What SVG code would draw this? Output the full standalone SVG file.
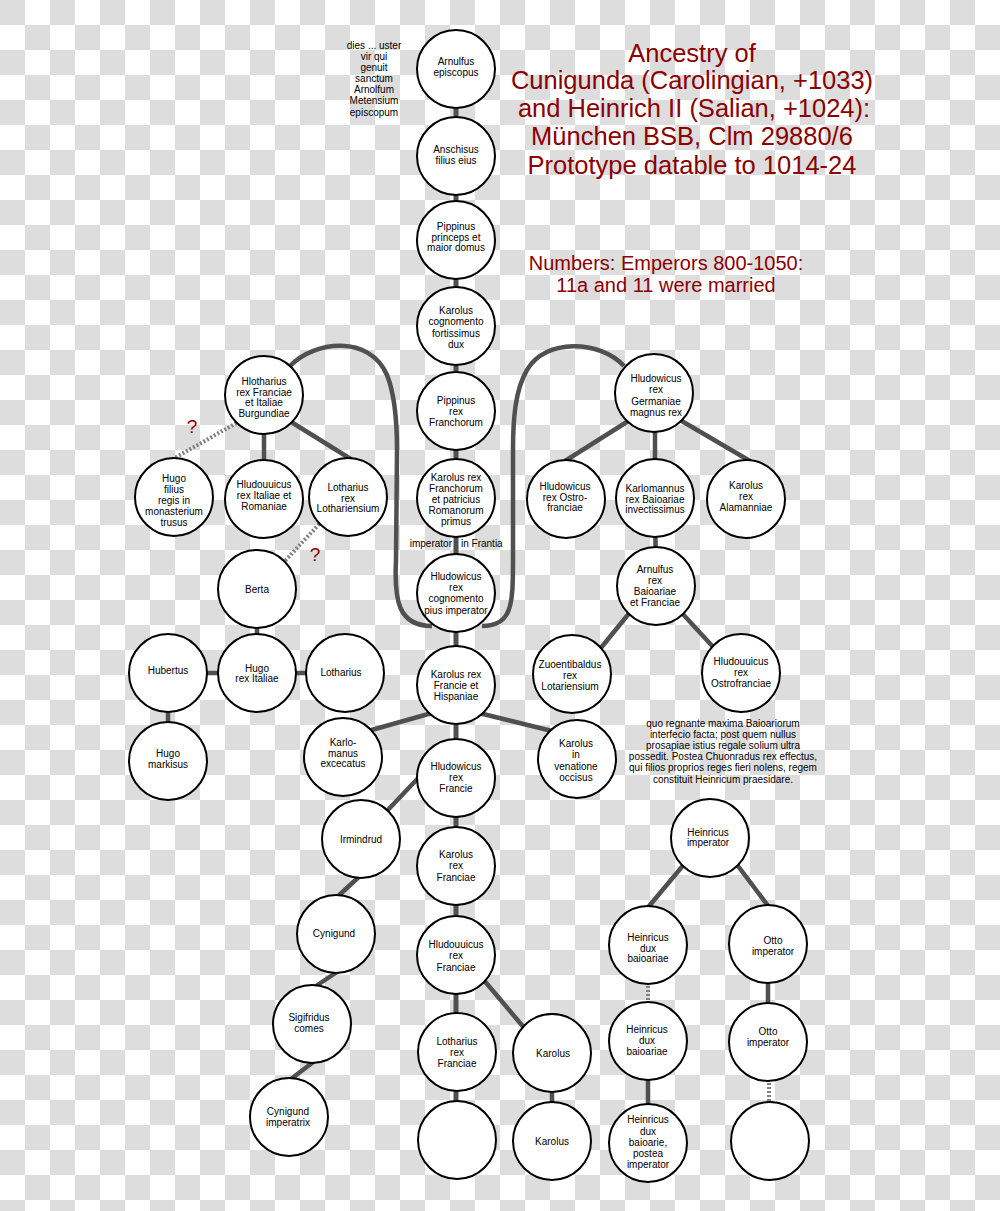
<svg xmlns="http://www.w3.org/2000/svg" width="1000" height="1211" viewBox="0 0 1000 1211">
<defs>
<pattern id="chk" x="0" y="0" width="50" height="50" patternUnits="userSpaceOnUse">
<rect width="50" height="50" fill="#ffffff"/>
<rect x="0" y="0" width="25" height="25" fill="#dddddd"/>
<rect x="25" y="25" width="25" height="25" fill="#dddddd"/>
</pattern>
<style>
.node circle{fill:#fff;stroke:#000;stroke-width:2}
.node text,.t{font-family:"Liberation Sans",Arial,sans-serif;font-size:10px;text-anchor:middle;fill:#000}
.c{stroke:#505050;stroke-width:4.5;fill:none}
.v{stroke:#505050;stroke-width:5;fill:none}
.d{stroke:#808080;stroke-width:4;stroke-dasharray:2 2;fill:none}
.title{font-family:"Liberation Sans",Arial,sans-serif;font-size:25.5px;text-anchor:middle;fill:#8b0000}
.num{font-family:"Liberation Sans",Arial,sans-serif;font-size:20px;text-anchor:middle;fill:#8b0000}
.q{font-family:"Liberation Sans",Arial,sans-serif;font-size:19px;text-anchor:middle;fill:#8b0000}
</style>
</defs>
<rect width="1000" height="1211" fill="url(#chk)"/>

<g id="connectors">
<line class="v" x1="456" y1="69" x2="456" y2="1140"/>
<line class="c" x1="264" y1="395" x2="264" y2="499"/>
<line class="c" x1="288" y1="420" x2="354" y2="461"/>
<line class="d" x1="240" y1="421" x2="171" y2="460"/>
<line class="d" x1="322" y1="521" x2="284" y2="562"/>
<line class="c" x1="257" y1="589" x2="257" y2="673"/>
<line class="c" x1="168" y1="673" x2="345" y2="673"/>
<line class="c" x1="168" y1="673" x2="168" y2="761"/>
<path class="c" d="M290 366 C315 340 370 335 387 375 C395 395 397 420 397 450 L396 560 C394 600 398 626 432 626"/>
<path class="c" d="M624 366 C600 340 545 338 527 370 C515 390 513 420 513 450 L513 560 C513 605 512 626 482 626"/>
<line class="c" x1="630" y1="420" x2="565" y2="461"/>
<line class="c" x1="655" y1="393" x2="655" y2="498"/>
<line class="c" x1="680" y1="420" x2="750" y2="461"/>
<line class="c" x1="655" y1="498" x2="656" y2="586"/>
<line class="c" x1="631" y1="611" x2="600" y2="649"/>
<line class="c" x1="680" y1="611" x2="715" y2="649"/>
<line class="c" x1="432" y1="713" x2="368" y2="731"/>
<line class="c" x1="479" y1="713" x2="552" y2="731"/>
<line class="c" x1="422" y1="774" x2="385" y2="813"/>
<line class="c" x1="362" y1="874" x2="335" y2="899"/>
<line class="c" x1="340" y1="970" x2="310" y2="990"/>
<line class="c" x1="316" y1="1060" x2="287" y2="1082"/>
<line class="c" x1="482" y1="978" x2="526" y2="1030"/>
<line class="c" x1="552" y1="1053" x2="552" y2="1141"/>
<line class="c" x1="686" y1="862" x2="645" y2="911"/>
<line class="c" x1="735" y1="862" x2="772" y2="911"/>
<line class="d" x1="648" y1="982" x2="648" y2="1004"/>
<line class="c" x1="648" y1="1041" x2="648" y2="1143"/>
<line class="c" x1="768" y1="944" x2="768" y2="1042"/>
<line class="d" x1="769" y1="1079" x2="769" y2="1104"/>
</g>

<g id="n1" class="node"><circle cx="456" cy="69" r="39"/><text><tspan x="456" y="64.5">Arnulfus</tspan><tspan x="456" y="75.5">episcopus</tspan></text></g>
<g id="n2" class="node"><circle cx="456" cy="156" r="39"/><text><tspan x="456" y="152.5">Anschisus</tspan><tspan x="456" y="163.5">filius eius</tspan></text></g>
<g id="n3" class="node"><circle cx="456" cy="240" r="39"/><text><tspan x="456" y="229.5">Pippinus</tspan><tspan x="456" y="240.5">princeps et</tspan><tspan x="456" y="251">maior domus</tspan></text></g>
<g id="n4" class="node"><circle cx="456" cy="326" r="39"/><text><tspan x="456" y="313.5">Karolus</tspan><tspan x="456" y="325">cognomento</tspan><tspan x="456" y="336.5">fortissimus</tspan><tspan x="456" y="347.5">dux</tspan></text></g>
<g id="n5" class="node"><circle cx="456" cy="411" r="39"/><text><tspan x="456" y="403.5">Pippinus</tspan><tspan x="456" y="414.5">rex</tspan><tspan x="456" y="425.5">Franchorum</tspan></text></g>
<g id="n6" class="node"><circle cx="456" cy="498" r="39"/><text><tspan x="456" y="480.5">Karolus rex</tspan><tspan x="456" y="491.5">Franchorum</tspan><tspan x="456" y="502.5">et patricius</tspan><tspan x="456" y="513.5">Romanorum</tspan><tspan x="456" y="524.5">primus</tspan></text></g>
<g id="n7" class="node"><circle cx="456" cy="593" r="39"/><text><tspan x="456" y="579.5">Hludowicus</tspan><tspan x="456" y="590.5">rex</tspan><tspan x="456" y="602">cognomento</tspan><tspan x="456" y="613.5">pius imperator</tspan></text></g>
<g id="n8" class="node"><circle cx="456" cy="685" r="39"/><text><tspan x="456" y="677.5">Karolus rex</tspan><tspan x="456" y="688.5">Francie et</tspan><tspan x="456" y="699.5">Hispaniae</tspan></text></g>
<g id="n9" class="node"><circle cx="456" cy="778" r="39"/><text><tspan x="456" y="769.5">Hludowicus</tspan><tspan x="456" y="780.5">rex</tspan><tspan x="456" y="791.5">Francie</tspan></text></g>
<g id="n10" class="node"><circle cx="456" cy="866" r="39"/><text><tspan x="456" y="857.5">Karolus</tspan><tspan x="456" y="869">rex</tspan><tspan x="456" y="880.5">Franciae</tspan></text></g>
<g id="n11" class="node"><circle cx="456" cy="955" r="39"/><text><tspan x="456" y="947.5">Hludouuicus</tspan><tspan x="456" y="959">rex</tspan><tspan x="456" y="970.5">Franciae</tspan></text></g>
<g id="n12" class="node"><circle cx="457" cy="1052" r="39"/><text><tspan x="457" y="1044.5">Lotharius</tspan><tspan x="457" y="1055.5">rex</tspan><tspan x="457" y="1066.5">Franciae</tspan></text></g>
<g id="n13" class="node"><circle cx="457" cy="1140" r="39"/></g>

<g id="hlotharius" class="node"><circle cx="264" cy="395" r="39"/><text><tspan x="264" y="384.5">Hlotharius</tspan><tspan x="264" y="395.5">rex Franciae</tspan><tspan x="264" y="406">et Italiae</tspan><tspan x="264" y="416.5">Burgundiae</tspan></text></g>
<g id="hugo-filius" class="node"><circle cx="174" cy="497" r="39"/><text><tspan x="174" y="481.5">Hugo</tspan><tspan x="174" y="492.5">filius</tspan><tspan x="174" y="503.5">regis in</tspan><tspan x="174" y="515">monasterium</tspan><tspan x="174" y="526">trusus</tspan></text></g>
<g id="hludouuicus-italiae" class="node"><circle cx="264" cy="499" r="39"/><text><tspan x="264" y="487.5">Hludouuicus</tspan><tspan x="264" y="498.5">rex Italiae et</tspan><tspan x="264" y="509.5">Romaniae</tspan></text></g>
<g id="lotharius-loth" class="node"><circle cx="348" cy="497" r="39"/><text><tspan x="348" y="490.5">Lotharius</tspan><tspan x="348" y="501.5">rex</tspan><tspan x="348" y="511.5">Lothariensium</tspan></text></g>
<g id="berta" class="node"><circle cx="257" cy="589" r="39"/><text><tspan x="257" y="592.5">Berta</tspan></text></g>
<g id="hugo-italiae" class="node"><circle cx="257" cy="673" r="39"/><text><tspan x="257" y="671.5">Hugo</tspan><tspan x="257" y="681.5">rex Italiae</tspan></text></g>
<g id="hubertus" class="node"><circle cx="168" cy="673" r="39"/><text><tspan x="168" y="673.5">Hubertus</tspan></text></g>
<g id="lotharius" class="node"><circle cx="345" cy="673" r="39"/><text><tspan x="341" y="675.5">Lotharius</tspan></text></g>
<g id="hugo-markisus" class="node"><circle cx="168" cy="761" r="39"/><text><tspan x="168" y="756.5">Hugo</tspan><tspan x="168" y="767.5">markisus</tspan></text></g>
<g id="karlomanus" class="node"><circle cx="343" cy="757" r="39"/><text><tspan x="343" y="745.5">Karlo-</tspan><tspan x="343" y="756.5">manus</tspan><tspan x="343" y="766.5">excecatus</tspan></text></g>

<g id="hludowicus-germ" class="node"><circle cx="654" cy="393" r="39"/><text><tspan x="656" y="381.5">Hludowicus</tspan><tspan x="656" y="392.5">rex</tspan><tspan x="656" y="404.5">Germaniae</tspan><tspan x="656" y="415.5">magnus rex</tspan></text></g>
<g id="hludowicus-ostro" class="node"><circle cx="566" cy="499" r="39"/><text><tspan x="565" y="489.5">Hludowicus</tspan><tspan x="565" y="500.5">rex Ostro-</tspan><tspan x="565" y="510.5">franciae</tspan></text></g>
<g id="karlomannus" class="node"><circle cx="655" cy="498" r="39"/><text><tspan x="655" y="491.5">Karlomannus</tspan><tspan x="655" y="502.5">rex Baioariae</tspan><tspan x="655" y="512.5">invectissimus</tspan></text></g>
<g id="karolus-alam" class="node"><circle cx="746" cy="499" r="39"/><text><tspan x="746" y="488.5">Karolus</tspan><tspan x="746" y="499.5">rex</tspan><tspan x="746" y="510.5">Alamanniae</tspan></text></g>
<g id="arnulfus-rex" class="node"><circle cx="656" cy="586" r="39"/><text><tspan x="655" y="572.5">Arnulfus</tspan><tspan x="655" y="583.5">rex</tspan><tspan x="655" y="594.5">Baioariae</tspan><tspan x="655" y="605.5">et Franciae</tspan></text></g>
<g id="zuoentibaldus" class="node"><circle cx="572" cy="674" r="39"/><text><tspan x="570" y="667.5">Zuoentibaldus</tspan><tspan x="570" y="678.5">rex</tspan><tspan x="570" y="689.5">Lotariensium</tspan></text></g>
<g id="hludouuicus-ostro" class="node"><circle cx="741" cy="673" r="39"/><text><tspan x="741" y="664.5">Hludouuicus</tspan><tspan x="741" y="675.5">rex</tspan><tspan x="741" y="686.5">Ostrofranciae</tspan></text></g>
<g id="karolus-venatione" class="node"><circle cx="577" cy="759" r="39"/><text><tspan x="576" y="747">Karolus</tspan><tspan x="576" y="758">in</tspan><tspan x="576" y="769.5">venatione</tspan><tspan x="576" y="780.5">occisus</tspan></text></g>

<g id="irmindrud" class="node"><circle cx="361" cy="839" r="39"/><text><tspan x="361" y="842.5">Irmindrud</tspan></text></g>
<g id="cynigund" class="node"><circle cx="336" cy="934" r="39"/><text><tspan x="334" y="936.5">Cynigund</tspan></text></g>
<g id="sigifridus" class="node"><circle cx="312" cy="1024" r="39"/><text><tspan x="309" y="1020.5">Sigifridus</tspan><tspan x="309" y="1031.5">comes</tspan></text></g>
<g id="cynigund-imperatrix" class="node"><circle cx="289" cy="1117" r="39"/><text><tspan x="288" y="1114.5">Cynigund</tspan><tspan x="288" y="1125.5">imperatrix</tspan></text></g>
<g id="karolus-1" class="node"><circle cx="552" cy="1053" r="39"/><text><tspan x="553" y="1056.5">Karolus</tspan></text></g>
<g id="karolus-2" class="node"><circle cx="552" cy="1141" r="39"/><text><tspan x="552" y="1144.5">Karolus</tspan></text></g>

<g id="heinricus-imperator" class="node"><circle cx="710" cy="838" r="39"/><text><tspan x="708" y="835.5">Heinricus</tspan><tspan x="708" y="845.5">imperator</tspan></text></g>
<g id="heinricus-dux-1" class="node"><circle cx="648" cy="945" r="39"/><text><tspan x="648" y="940.5">Heinricus</tspan><tspan x="648" y="951.5">dux</tspan><tspan x="648" y="961.5">baioariae</tspan></text></g>
<g id="otto-1" class="node"><circle cx="768" cy="944" r="39"/><text><tspan x="773" y="943.5">Otto</tspan><tspan x="773" y="954.5">imperator</tspan></text></g>
<g id="heinricus-dux-2" class="node"><circle cx="648" cy="1041" r="39"/><text><tspan x="647" y="1032.5">Heinricus</tspan><tspan x="647" y="1043.5">dux</tspan><tspan x="647" y="1054.5">baioariae</tspan></text></g>
<g id="otto-2" class="node"><circle cx="768" cy="1042" r="39"/><text><tspan x="768" y="1034.5">Otto</tspan><tspan x="768" y="1045.5">imperator</tspan></text></g>
<g id="heinricus-dux-3" class="node"><circle cx="648" cy="1143" r="39"/><text><tspan x="648" y="1122.5">Heinricus</tspan><tspan x="648" y="1134.5">dux</tspan><tspan x="648" y="1145.5">baioarie,</tspan><tspan x="648" y="1156.5">postea</tspan><tspan x="648" y="1167.5">imperator</tspan></text></g>
<g id="empty-right" class="node"><circle cx="770" cy="1141" r="39"/></g>

<g id="labels">
<text class="t"><tspan x="374" y="48.5">dies ... uster</tspan><tspan x="374" y="59.7">vir qui</tspan><tspan x="374" y="70.8">genuit</tspan><tspan x="374" y="82">sanctum</tspan><tspan x="374" y="93.1">Arnolfum</tspan><tspan x="374" y="104.3">Metensium</tspan><tspan x="374" y="115.5">episcopum</tspan></text>
<text class="t" style="text-anchor:end" x="452" y="546.5">imperator</text>
<text class="t" style="text-anchor:start" x="461" y="546.5">in Frantia</text>
<text class="t"><tspan x="723" y="726.5">quo regnante maxima Baioariorum</tspan><tspan x="723" y="737.7">interfecio facta; post quem nullus</tspan><tspan x="723" y="748.9">prosapiae istius regale solium ultra</tspan><tspan x="723" y="760.1">possedit. Postea Chuonradus rex effectus,</tspan><tspan x="723" y="771.3">qui filios proprios reges fieri nolens, regem</tspan><tspan x="723" y="782.5">constituit Heinricum praesidare.</tspan></text>
<text class="q" x="192" y="433">?</text>
<text class="q" x="315" y="561">?</text>
<text class="title"><tspan x="692" y="61.5">Ancestry of</tspan><tspan x="692" y="89">Cunigunda (Carolingian, +1033)</tspan><tspan x="694" y="117">and Heinrich II (Salian, +1024):</tspan><tspan x="692" y="145">München BSB, Clm 29880/6</tspan><tspan x="692" y="173.5">Prototype datable to 1014-24</tspan></text>
<text class="num"><tspan x="666" y="270">Numbers: Emperors 800-1050:</tspan><tspan x="666" y="292">11a and 11 were married</tspan></text>
</g>
</svg>
